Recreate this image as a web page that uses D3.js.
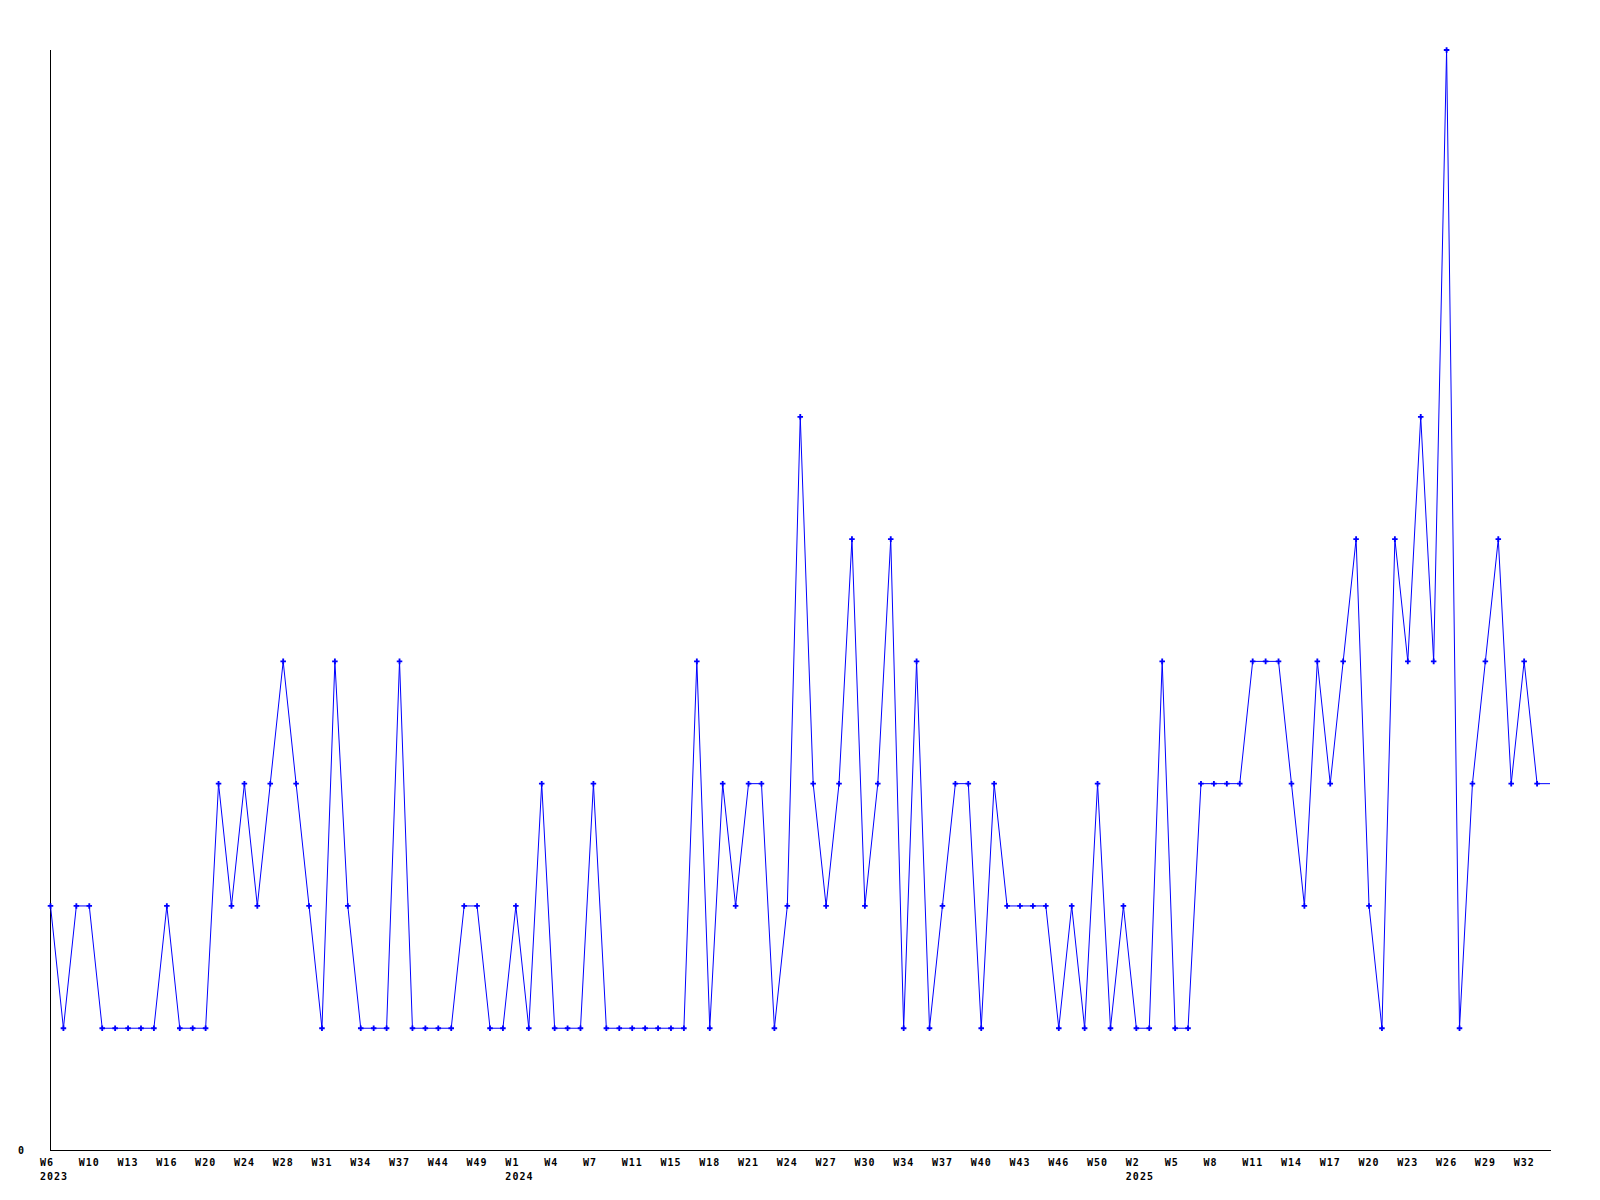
<!DOCTYPE html>
<html>
<head>
<meta charset="utf-8">
<script src="https://cdn.jsdelivr.net/npm/d3@7"></script>
<style>
  html, body { margin: 0; padding: 0; background: #fff; }
  svg { display: block; }
  text { font-family: "DejaVu Sans Mono", "Liberation Mono", monospace; font-weight: bold; font-size: 10px; letter-spacing: 1px; fill: #000; }
</style>
</head>
<body>
<script>
// Weekly categories (year, week)
const years2023 = ["W6","W7","W8","W10","W11","W12","W13","W14","W15","W16","W17","W19","W20","W21","W23","W24","W26","W27","W28","W29","W30","W31","W32","W33","W34","W35","W36","W37","W39","W42","W44","W46","W48","W49","W51","W52"];
const years2024 = ["W1","W2","W3","W4","W5","W6","W7","W9","W10","W11","W13","W14","W15","W16","W17","W18","W19","W20","W21","W22","W23","W24","W25","W26","W27","W28","W29","W30","W32","W33","W34","W35","W36","W37","W38","W39","W40","W41","W42","W43","W44","W45","W46","W48","W49","W50","W51","W52"];
const years2025 = ["W2","W3","W4","W5","W6","W7","W8","W9","W10","W11","W12","W13","W14","W15","W16","W17","W18","W19","W20","W21","W22","W23","W24","W25","W26","W27","W28","W29","W30","W31","W32","W33","W34"];
const categories = [
  ...years2023.map(w => "2023 " + w),
  ...years2024.map(w => "2024 " + w),
  ...years2025.map(w => "2025 " + w)
];
const values = [
  2,1,2,2,1,1,1,1,1,2,
  1,1,1,3,2,3,2,3,4,3,
  2,1,4,2,1,1,1,4,1,1,
  1,1,2,2,1,1,2,1,3,1,
  1,1,3,1,1,1,1,1,1,1,
  4,1,3,2,3,3,1,2,6,3,
  2,3,5,2,3,5,1,4,1,2,
  3,3,1,3,2,2,2,2,1,2,
  1,3,1,2,1,1,4,1,1,3,
  3,3,3,4,4,4,3,2,4,3,
  4,5,2,1,5,4,6,4,9,1,
  3,4,5,3,4,3,3
];
const yTickValues = [0];
const tickEvery = 3;

const W = 1600, H = 1200;
const svg = d3.select("body").append("svg").attr("width", W).attr("height", H);

const x = d3.scalePoint().domain(categories).range([50.5, 1550]);
const y = d3.scaleLinear().domain([0, 9]).range([1150.5, 50]);

const data = categories.map((c, i) => ({ c, v: values[i] }));

// axes
const yAxis = d3.axisLeft(y).tickValues(yTickValues).tickSize(0).tickSizeOuter(0).tickPadding(25).tickFormat(d3.format("d"));
const gy = svg.append("g").attr("transform", "translate(50,0)").call(yAxis);
gy.select(".domain").attr("d", "M0.5,50V1151").attr("stroke", "#000").attr("stroke-width", 1);
gy.selectAll("text").attr("font-family", null).attr("font-size", null).attr("dy", "0.32em").attr("fill", "#000");

const xTicks = categories.filter((c, i) => i % tickEvery === 0);
let lastYear = null;
const xAxis = d3.axisBottom(x).tickValues(xTicks).tickSize(0).tickSizeOuter(0).tickFormat(d => d.split(" ")[1]);
const gx = svg.append("g").attr("transform", "translate(0,1150)").call(xAxis);
gx.select(".domain").attr("d", "M50,0.5H1551").attr("stroke", "#000");
gx.selectAll(".tick text")
  .attr("font-family", null).attr("font-size", null).attr("fill", "#000")
  .attr("text-anchor", "start").attr("x", -11).attr("y", 16).attr("dy", null)
  .each(function(d) {
    const yr = d.split(" ")[0];
    if (yr !== lastYear) {
      d3.select(this).append("tspan").attr("x", -11).attr("dy", 13.5).text(yr);
      lastYear = yr;
    }
  });

// line
const line = d3.line().x(d => x(d.c)).y(d => y(d.v));
svg.append("path").datum(data)
  .attr("fill", "none").attr("stroke", "#0000ff").attr("stroke-width", 1)
  .attr("d", line);

// markers (last point sits on the plot edge and has no marker)
svg.append("g").selectAll("path").data(data.slice(0, -1)).join("path")
  .attr("transform", d => `translate(${x(d.c)},${y(d.v)})`)
  .attr("d", d3.symbol(d3.symbolCross, 17))
  .attr("fill", "#0000ff");
</script>
</body>
</html>
